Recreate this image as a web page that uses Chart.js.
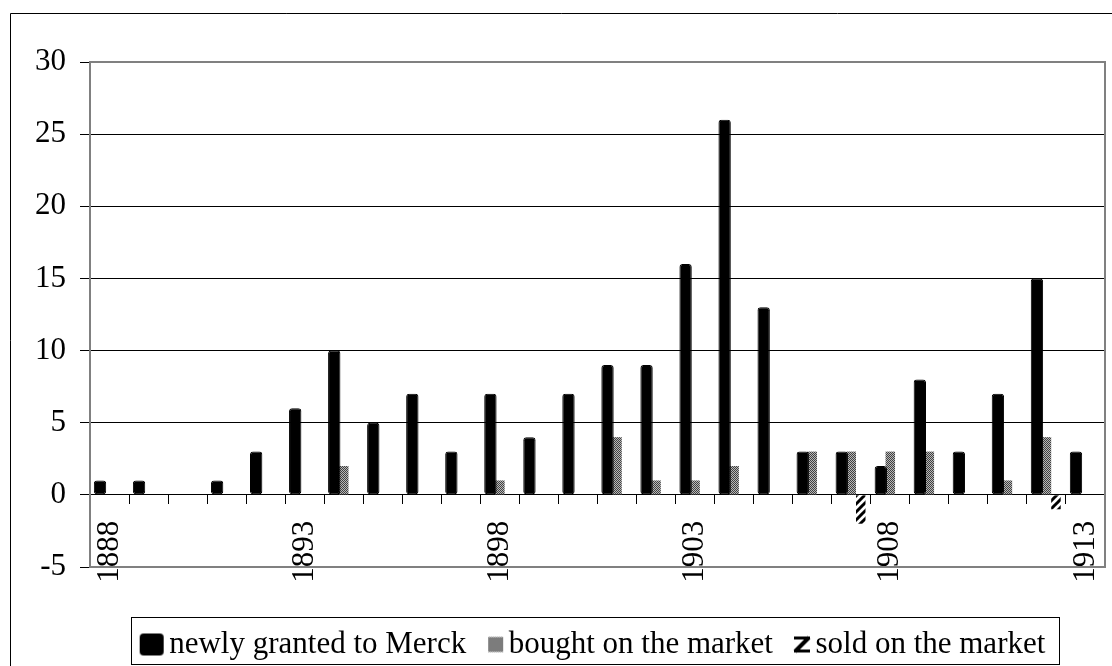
<!DOCTYPE html>
<html>
<head>
<meta charset="utf-8">
<script src="https://cdn.jsdelivr.net/npm/chart.js@4.4.1/dist/chart.umd.min.js"></script>
<style>
  html, body { margin: 0; padding: 0; background: #fff; }
  canvas { display: block; }
</style>
</head>
<body>
<canvas id="chart" width="1112" height="666"></canvas>
<script>
const years = ["1888", "1889", "1890", "1891", "1892", "1893", "1894", "1895", "1896",
  "1897", "1898", "1899", "1900", "1901", "1902", "1903", "1904", "1905", "1906",
  "1907", "1908", "1909", "1910", "1911", "1912", "1913"]
const granted = [1, 1, null, 1, 3, 6, 10, 5, 7, 3, 7, 4, 7, 9, 9, 16, 26, 13, 3, 3, 2, 8, 3, 7, 15, 3]
const bought = [null, null, null, null, null, null, 2, null, null, null, 1, null, null, 4, 1, 1, 2, null, 3, 3, 3, 3, null, 1, 4, null]
const sold = [null, null, null, null, null, null, null, null, null, null, null, null, null, null, null, null, null, null, null, -2, null, null, null, null, -1, null]
const seriesNames = ["newly granted to Merck", "bought on the market", "sold on the market"]
const yRange = [-5, 30]
const yStep = 5

const FONT = "'Liberation Serif', 'Times New Roman', serif"

function makeTile(size, draw) {
  const c = document.createElement("canvas")
  c.width = size
  c.height = size
  draw(c.getContext("2d"), size)
  return c
}

// fine grey dither used by Excel for "bought"
const dotTile = makeTile(2, (ctx) => {
  ctx.fillStyle = "#b8b8b8"
  ctx.fillRect(0, 0, 2, 2)
  ctx.fillStyle = "#404040"
  ctx.fillRect(0, 0, 1, 1)
  ctx.fillRect(1, 1, 1, 1)
})

// wide diagonal stripes for "sold"
const hatchTile = makeTile(8, (ctx, s) => {
  ctx.fillStyle = "#ffffff"
  ctx.fillRect(0, 0, s, s)
  ctx.strokeStyle = "#000000"
  ctx.lineWidth = 3
  ctx.beginPath()
  ctx.moveTo(-1, 1); ctx.lineTo(1, -1)
  ctx.moveTo(0, s); ctx.lineTo(s, 0)
  ctx.moveTo(s - 1, s + 1); ctx.lineTo(s + 1, s - 1)
  ctx.stroke()
})

const canvas = document.getElementById("chart")
const mainCtx = canvas.getContext("2d")
const dotPattern = mainCtx.createPattern(dotTile, "repeat")
const hatchPattern = mainCtx.createPattern(hatchTile, "repeat")

function legendIcon(w, h, paint) {
  const c = document.createElement("canvas")
  c.width = 80
  c.height = 40
  const ctx = c.getContext("2d")
  paint(ctx, 52 - w, 20 - h / 2, w, h)
  return c
}

const legendIcons = [
  legendIcon(24, 22, (ctx, x, y, w, h) => {
    ctx.fillStyle = "#000"
    ctx.beginPath()
    ctx.roundRect(x, y, w, h, 4)
    ctx.fill()
  }),
  legendIcon(15, 15, (ctx, x, y, w, h) => {
    ctx.fillStyle = ctx.createPattern(dotTile, "repeat")
    ctx.fillRect(x, y, w, h)
  }),
  legendIcon(16, 16, (ctx, x, y, w, h) => {
    ctx.fillStyle = "#000"
    ctx.fillRect(x, y, w, 3)
    ctx.fillRect(x, y + h - 3, w, 3)
    ctx.strokeStyle = "#000"
    ctx.lineWidth = 4
    ctx.beginPath()
    ctx.moveTo(x + 1, y + h - 1)
    ctx.lineTo(x + w - 1, y + 1)
    ctx.stroke()
  })
]

const framePlugin = {
  id: "frames",
  beforeDraw(chart) {
    const { ctx, width, height } = chart
    ctx.save()
    ctx.fillStyle = "#fff"
    ctx.fillRect(0, 0, width, height)
    ctx.strokeStyle = "#000"
    ctx.lineWidth = 1
    ctx.beginPath()
    ctx.moveTo(10.5, height + 2)
    ctx.lineTo(10.5, 13.5)
    ctx.lineTo(width + 2, 13.5)
    ctx.stroke()
    ctx.restore()
  },
  beforeDatasetsDraw(chart) {
    const { ctx, chartArea: a } = chart
    ctx.save()
    ctx.strokeStyle = "#808080"
    ctx.lineWidth = 2
    ctx.strokeRect(a.left, a.top, a.right - a.left, a.bottom - a.top)
    ctx.restore()
  },
  afterDraw(chart) {
    const boxes = chart.legend && chart.legend.legendHitBoxes
    if (!boxes || boxes.length === 0) {
      return
    }
    const first = boxes[0]
    const last = boxes[boxes.length - 1]
    const { ctx } = chart
    ctx.save()
    ctx.strokeStyle = "#000"
    ctx.lineWidth = 1
    const left = Math.round(first.left - 19) + 0.5
    const right = Math.round(last.left + last.width + 14) + 0.5
    const top = Math.round(first.top - 12) + 0.5
    const bottom = Math.round(first.top + 35) + 0.5
    ctx.strokeRect(left, top, right - left, bottom - top)
    ctx.restore()
  }
}

const noSidePadding = (scale) => {
  scale.paddingLeft = 0
  scale.paddingRight = 0
}

new Chart(canvas, {
  type: "bar",
  data: {
    labels: years,
    datasets: [
      {
        label: seriesNames[0],
        data: granted,
        backgroundColor: "#000",
        borderColor: "#000",
        borderWidth: 1,
        borderRadius: 3,
        borderSkipped: false,
        barPercentage: 1.3
      },
      {
        label: seriesNames[1],
        data: bought,
        backgroundColor: dotPattern,
        borderWidth: 0
      },
      {
        label: seriesNames[2],
        data: sold,
        backgroundColor: hatchPattern,
        borderWidth: 0
      }
    ]
  },
  options: {
    responsive: false,
    animation: false,
    events: [],
    layout: {
      padding: { left: 10, right: 7, top: 62, bottom: -4 }
    },
    datasets: {
      bar: { categoryPercentage: 0.73, barPercentage: 1 }
    },
    scales: {
      x: {
        position: { y: 0 },
        afterFit: noSidePadding,
        grid: {
          drawOnChartArea: false,
          drawTicks: true,
          tickLength: 9,
          color: "#000",
          offset: true
        },
        border: { color: "#000", width: 1 },
        ticks: {
          autoSkip: false,
          maxRotation: 90,
          minRotation: 90,
          padding: 17,
          color: "#000",
          font: { family: FONT, size: 31 },
          callback: (value, index) => (index % 5 === 0 ? years[index] : "")
        }
      },
      x2: {
        type: "category",
        position: "bottom",
        grid: { display: false },
        border: { display: false },
        ticks: { display: false },
        afterFit: (scale) => {
          noSidePadding(scale)
          scale.height = 39
        }
      },
      y: {
        min: yRange[0],
        max: yRange[1],
        afterFit: (scale) => {
          scale.width = 80
        },
        grid: {
          color: (context) => {
            const v = context.tick && context.tick.value
            return v === yRange[0] || v === yRange[1] || v === 0 ? "rgba(0,0,0,0)" : "#000"
          },
          tickColor: "#000",
          tickLength: 10,
          lineWidth: 1
        },
        border: { color: "#808080", width: 2 },
        ticks: {
          stepSize: yStep,
          padding: 14,
          color: "#000",
          font: { family: FONT, size: 31 }
        }
      }
    },
    plugins: {
      tooltip: { enabled: false },
      legend: {
        position: "bottom",
        fullSize: false,
        labels: {
          usePointStyle: true,
          pointStyleWidth: 4,
          padding: 23,
          color: "#000",
          font: { family: FONT, size: 31 },
          generateLabels: (chart) =>
            chart.data.datasets.map((dataset, i) => ({
              text: dataset.label,
              pointStyle: legendIcons[i],
              datasetIndex: i,
              hidden: false,
              lineWidth: 0,
              fillStyle: "#000",
              strokeStyle: "#000",
              fontColor: "#000"
            }))
        }
      }
    }
  },
  plugins: [framePlugin]
})
</script>
</body>
</html>
